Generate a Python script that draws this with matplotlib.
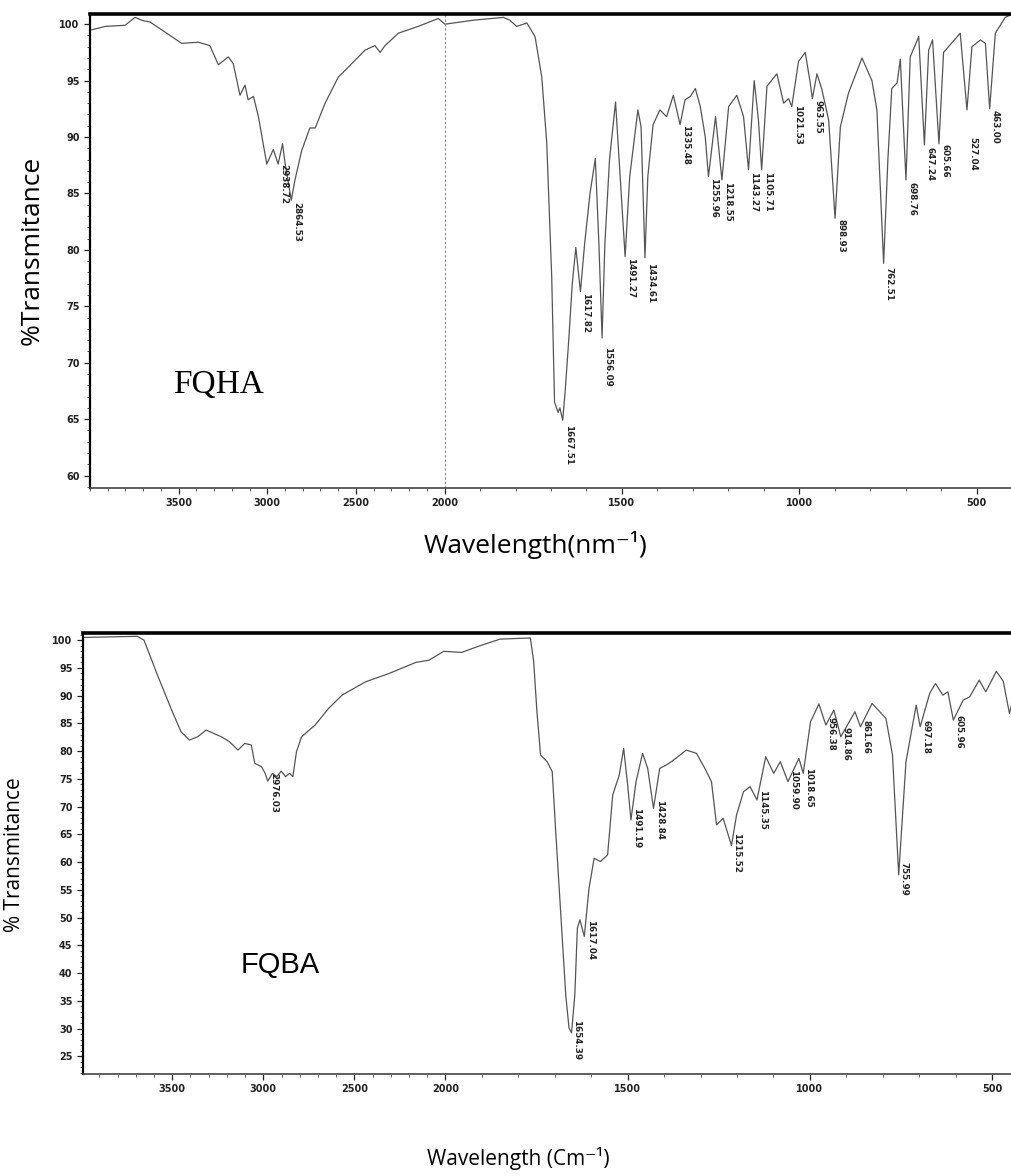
import numpy as np
import matplotlib
matplotlib.use("Agg")
from matplotlib import pyplot as plt
from matplotlib.ticker import MultipleLocator

# --- FQHA spectrum (wavenumber, %T) ---
fqha_wn = [3990, 3915, 3802, 3746, 3700, 3662, 3577, 3483, 3389, 3324, 3276, 3220, 3192,
           3154, 3126, 3108, 3078, 3050, 3003, 2966, 2939, 2914, 2900, 2865, 2844, 2806,
           2760, 2730, 2674, 2600, 2524, 2449, 2393, 2364, 2336, 2261, 2149, 2036, 1999,
           1919, 1834, 1816, 1797, 1768, 1745, 1726, 1712, 1698, 1690, 1680, 1675, 1667,
           1660, 1650, 1640, 1630, 1617, 1605, 1590, 1575, 1565, 1556, 1548, 1535, 1518,
           1508, 1491, 1478, 1455, 1446, 1435, 1427, 1412, 1393, 1374, 1355, 1336, 1322,
           1307, 1293, 1279, 1265, 1256, 1236, 1218, 1199, 1176, 1157, 1143, 1127, 1115,
           1106, 1091, 1063, 1044, 1030, 1021, 1002, 983, 969, 963, 950, 936, 917, 899,
           884, 861, 823, 795, 781, 762, 750, 739, 724, 715, 699, 687, 663, 647, 635, 624,
           606, 593, 546, 527, 513, 489, 475, 463, 447, 419, 405]
fqha_t = [99.5, 99.8, 99.9, 100.6, 100.3, 100.2, 99.3, 98.3, 98.4, 98.1, 96.4, 97.1, 96.5,
          93.7, 94.6, 93.3, 93.6, 91.8, 87.6, 88.9, 87.6, 89.4, 87.7, 84.4, 86.2, 88.8,
          90.8, 90.8, 93.0, 95.3, 96.5, 97.7, 98.1, 97.5, 98.1, 99.2, 99.8, 100.5, 100.0,
          100.35, 100.6, 100.35, 99.8, 100.1, 98.9, 95.3, 89.5, 77.6, 66.5, 65.6, 66.0, 64.9,
          67.5, 72.0, 77.0, 80.2, 76.3, 80.6, 85.0, 88.1, 80.6, 72.2, 80.6, 88.0, 93.1,
          88.0, 79.4, 86.5, 92.4, 90.9, 79.3, 86.5, 91.1, 92.4, 91.8, 93.7, 91.1, 93.3,
          93.6, 94.3, 92.7, 90.0, 86.5, 91.8, 86.2, 92.7, 93.7, 91.8, 87.1, 95.0, 91.5,
          87.1, 94.5, 95.6, 93.0, 93.4, 92.7, 96.7, 97.5, 94.8, 93.4, 95.6, 94.2, 91.5, 82.8,
          90.9, 93.9, 97.0, 95.0, 92.4, 78.8, 88.0, 94.3, 94.8, 96.9, 86.2, 97.1, 98.9, 89.3, 97.7, 98.6,
          89.4, 97.5, 99.2, 92.4, 98.0, 98.6, 98.3, 92.5, 99.2, 100.6, 100.8]

fqha_labels = ["2938.72", "2864.53", "1667.51", "1617.82", "1556.09", "1491.27", "1434.61",
               "1335.48", "1255.96", "1218.55", "1143.27", "1105.71", "1021.53", "963.55",
               "898.93", "762.51", "698.76", "647.24", "605.66", "527.04", "463.00"]
fqha_label_t = [87.6, 84.2, 64.5, 76.2, 71.4, 79.3, 78.8, 91.1, 86.4, 86.0, 86.9, 86.9,
                92.8, 93.3, 82.7, 78.5, 86.0, 89.1, 89.4, 90.0, 92.4]

# --- FQBA spectrum ---
fqba_wn = [3985, 3692, 3655, 3581, 3507, 3452, 3406, 3360, 3314, 3231, 3186, 3139, 3102,
           3066, 3047, 3010, 2990, 2976, 2950, 2926, 2902, 2878, 2856, 2838, 2818, 2790,
           2716, 2642, 2568, 2439, 2310, 2163, 2090, 2010, 1956, 1910, 1850, 1767, 1758,
           1749, 1739, 1721, 1707, 1698, 1684, 1670, 1661, 1654, 1645, 1638, 1631, 1619,
           1606, 1592, 1575, 1555, 1541, 1523, 1511, 1500, 1491, 1477, 1459, 1445, 1429,
           1412, 1394, 1380, 1362, 1339, 1311, 1288, 1270, 1256, 1238, 1215, 1201, 1182,
           1164, 1145, 1121, 1099, 1081, 1060, 1030, 1018, 998, 975, 956, 934, 915, 876,
           861, 829, 791, 773, 756, 736, 708, 697, 671, 655, 635, 621, 606, 579, 561, 535,
           517, 488, 469, 452, 440]
fqba_t = [100.5, 100.7, 100.0, 93.7, 87.7, 83.5, 82.0, 82.6, 83.8, 82.6, 81.7, 80.2, 81.4,
          81.1, 77.8, 77.2, 76.0, 74.6, 76.0, 75.4, 76.4, 75.4, 76.0, 75.4, 79.9, 82.6,
          84.7, 87.7, 90.1, 92.5, 94.0, 96.0, 96.4, 98.0, 97.8, 98.9, 100.2, 100.4, 96.2,
          87.1, 79.3, 78.1, 76.3, 66.1, 51.1, 36.1, 30.1, 29.2, 36.1, 48.1, 49.6, 46.6,
          55.3, 60.7, 60.1, 61.3, 72.1, 75.7, 80.5, 73.9, 67.6, 74.5, 79.6, 76.9, 69.7,
          76.9, 77.5, 78.1, 79.0, 80.2, 79.6, 76.9, 74.5, 66.7, 67.9, 63.0, 68.5, 72.7,
          73.6, 71.2, 79.0, 76.0, 78.1, 74.5, 78.7, 76.0, 85.3, 88.5, 84.7, 87.4, 82.6, 87.1,
          84.4, 88.6, 85.9, 79.3, 57.7, 78.1, 88.3, 84.4, 90.4, 92.2, 90.1, 90.7, 85.6, 89.2,
          89.8, 92.8, 90.7, 94.4, 92.6, 86.8, 90.0]

fqba_labels = ["2976.03", "1654.39", "1617.04", "1491.19", "1428.84", "1215.52", "1145.35",
               "1059.90", "1018.65", "956.38", "914.86", "861.66", "755.99", "697.18", "605.96"]
fqba_label_t = [76.0, 31.5, 49.5, 69.7, 71.2, 65.2, 73.0, 76.6, 77.0, 86.1, 84.3, 85.6,
                60.0, 85.6, 86.5]

x_ticks = [3500, 3000, 2500, 2000, 1500, 1000, 500]


# FTIR style axis: scale above 2000 cm-1 is compressed by half
def fwd(x):
    x = np.asarray(x, dtype=float)
    return np.where(x > 2000, 2000 + (x - 2000) / 2, x)


def inv(u):
    u = np.asarray(u, dtype=float)
    return np.where(u > 2000, 2000 + 2 * (u - 2000), u)


def style_axes(ax, xlim, ylim, yticks):
    ax.set_xscale("function", functions=(fwd, inv))
    ax.set_xlim(*xlim)
    ax.set_ylim(*ylim)
    ax.set_xticks(x_ticks)
    ax.set_yticks(yticks)
    ax.xaxis.set_minor_locator(MultipleLocator(100))
    ax.yaxis.set_minor_locator(MultipleLocator(1))
    ax.tick_params(which="major", direction="out", length=4, width=0.9, colors="#222",
                   labelsize=7)
    ax.tick_params(which="minor", direction="out", length=2, width=0.6, colors="#444")
    for lab in ax.get_xticklabels() + ax.get_yticklabels():
        lab.set_fontweight("bold")
    ax.spines["right"].set_visible(False)
    ax.spines["top"].set_linewidth(2.6)
    ax.spines["left"].set_linewidth(1.6)
    ax.spines["bottom"].set_linewidth(1.2)
    ax.spines["bottom"].set_color("#444")


def put_labels(ax, labels, label_t):
    for txt, ty in zip(labels, label_t):
        ax.annotate(txt, xy=(float(txt), ty), xytext=(4, 0), textcoords="offset points",
                    rotation=-90, ha="center", va="top", fontsize=6.3, fontweight="bold",
                    color="#222")


fig = plt.figure(figsize=(10.12, 11.76), dpi=100)

# top panel: FQHA
ax1 = fig.add_axes([90 / 1012, 1 - 488 / 1176, 922 / 1012, 474 / 1176])
ax1.plot(fqha_wn, fqha_t, color="#555555", lw=0.9)
ax1.axvline(2000, color="#888888", lw=0.8, ls=(0, (2, 2)))
style_axes(ax1, (4000, 400), (58.9, 100.9), range(60, 101, 5))
put_labels(ax1, fqha_labels, fqha_label_t)
ax1.text(0.139, 0.217, "FQHA", transform=ax1.transAxes, family="Liberation Serif",
         fontsize=24, ha="center", va="center")

# bottom panel: FQBA
ax2 = fig.add_axes([83 / 1012, 1 - 1074 / 1176, 929 / 1012, 441 / 1176])
ax2.plot(fqba_wn, fqba_t, color="#555555", lw=0.9)
style_axes(ax2, (3990, 445), (21.8, 101.3), range(25, 101, 5))
put_labels(ax2, fqba_labels, fqba_label_t)
ax2.text(0.212, 0.247, "FQBA", transform=ax2.transAxes, family="Liberation Sans",
         fontsize=21, ha="center", va="center")

# axis titles
fam = ["Open Sans", "DejaVu Sans"]
fig.text(0.0316, 0.787, "%Transmitance", rotation=90, ha="center", va="center",
         fontsize=19, family=fam)
fig.text(0.5287, 0.5366, "Wavelength(nm\u207b\u00b9)", ha="center", va="center",
         fontsize=19, family=fam)
fig.text(0.0148, 0.273, "% Transmitance", rotation=90, ha="center", va="center",
         fontsize=15, family=fam)
fig.text(0.512, 0.0153, "Wavelength (Cm\u207b\u00b9)", ha="center", va="center",
         fontsize=15, family=fam)

fig.savefig("out.png", dpi=100)
